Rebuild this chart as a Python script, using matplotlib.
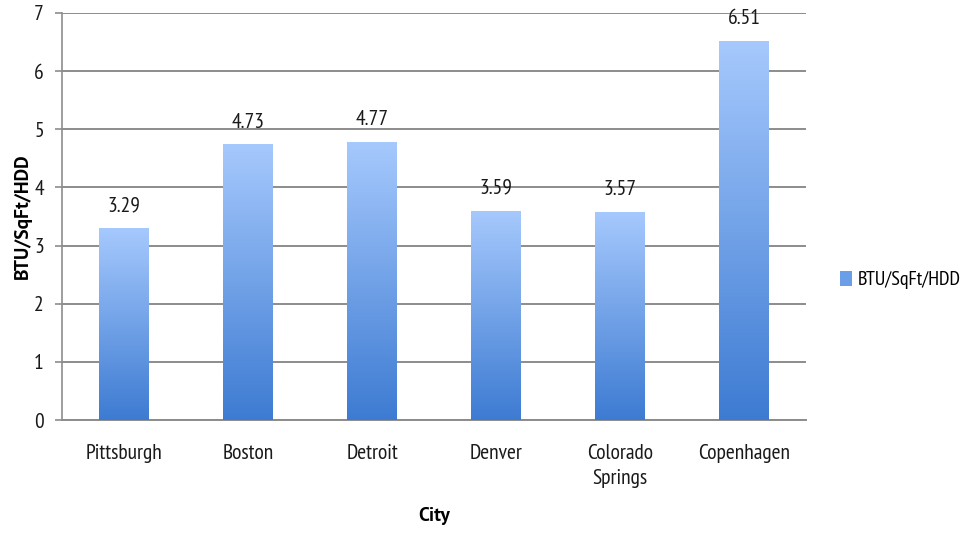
import numpy as np
import matplotlib.pyplot as plt
from matplotlib.colors import LinearSegmentedColormap
from matplotlib.patches import Rectangle

cities = ["Pittsburgh", "Boston", "Detroit", "Denver", "Colorado\nSprings", "Copenhagen"]
values = [3.29, 4.73, 4.77, 3.59, 3.57, 6.51]
series_name = "BTU/SqFt/HDD"
y_ticks = [0, 1, 2, 3, 4, 5, 6, 7]

plt.rcParams["font.family"] = ["PT Sans Narrow", "DejaVu Sans"]

fig = plt.figure(figsize=(9.68, 5.39), dpi=100)
ax = fig.add_axes([62 / 968, 1 - 420 / 539, (806 - 62) / 968, (420 - 13) / 539])

grad = LinearSegmentedColormap.from_list("bar", ["#3d7bd2", "#a6c9fd"])
gradient = np.linspace(0, 1, 256).reshape(-1, 1)
width = 0.4
text_color = "#1a1a1a"

x = np.arange(len(cities))
bars = ax.bar(x, values, width=width, color="none", edgecolor="none", zorder=3)
for rect, v in zip(bars, values):
    x0 = rect.get_x()
    ax.imshow(gradient, cmap=grad, origin="lower", aspect="auto",
              extent=(x0, x0 + width, 0, v), zorder=3, interpolation="bilinear")
    ax.text(rect.get_x() + width / 2, v + 0.3, f"{v:.2f}", ha="center", va="baseline",
            fontsize=15.5, color=text_color, zorder=4)

ax.set_xlim(-0.5, len(cities) - 0.5)
ax.set_ylim(0, 7)
ax.set_yticks(y_ticks)
ax.set_xticks(x)
ax.set_xticklabels(cities, fontsize=15.5, color=text_color, linespacing=1.4)
ax.tick_params(axis="y", labelsize=15.5, colors=text_color, length=5, width=1.2,
               color="#8c8c8c", pad=8)
ax.tick_params(axis="x", length=0, pad=17)
ax.yaxis.grid(True, color="#8c8c8c", linewidth=1.4, zorder=0)
ax.set_axisbelow(True)
for s in ["top", "right"]:
    ax.spines[s].set_visible(False)
ax.spines["left"].set_color("#8c8c8c")
ax.spines["left"].set_linewidth(1.2)
ax.spines["bottom"].set_color("#8c8c8c")
ax.spines["bottom"].set_linewidth(1.4)

ax.set_xlabel("City", fontsize=14, fontweight="bold", family="PT Sans", labelpad=14)
ax.set_ylabel(series_name, fontsize=14, fontweight="bold", family="PT Sans", labelpad=2)

handle = Rectangle((0, 0), 1, 1, facecolor="#6a9ee6", edgecolor="none")
fig.legend([handle], [series_name], loc="center left", bbox_to_anchor=(840 / 968, 1 - 280 / 539),
           frameon=False, borderpad=0, borderaxespad=0, handlelength=0.6, handleheight=0.8,
           handletextpad=0.3, prop={"family": ["PT Sans Narrow"], "size": 14.5})

fig.savefig("out.png", dpi=100)
